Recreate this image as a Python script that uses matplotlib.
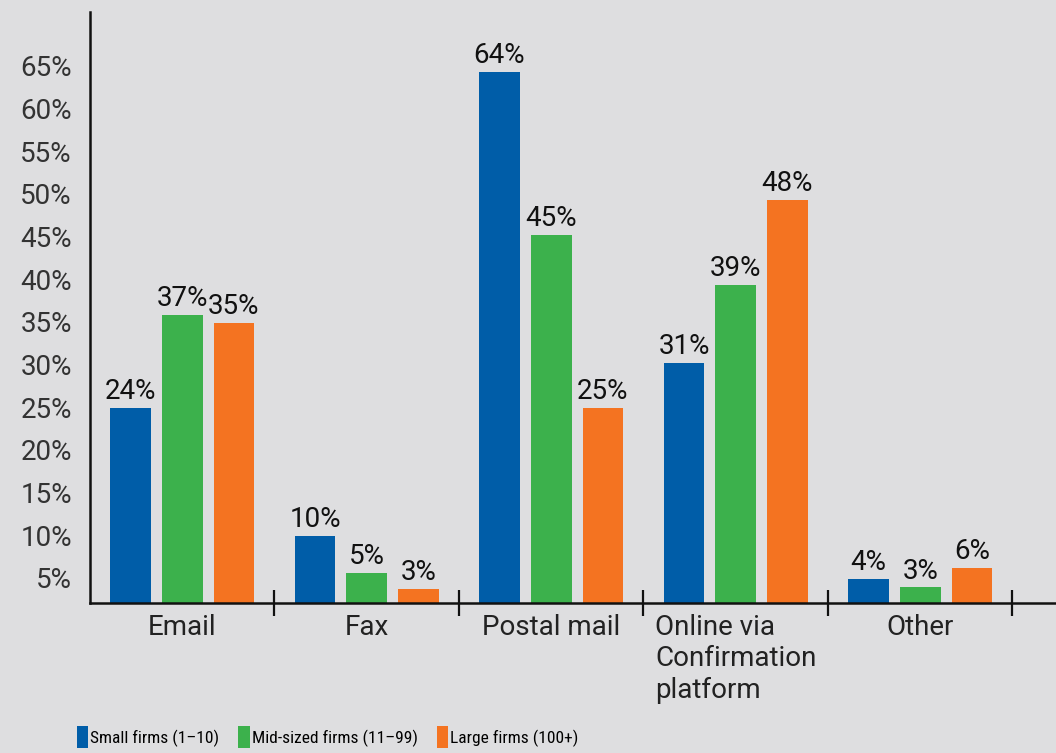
import numpy as np
import matplotlib
matplotlib.use('Agg')
import matplotlib.pyplot as plt
from matplotlib.patches import Patch

plt.rcParams['font.family'] = ['Roboto', 'DejaVu Sans']

categories = ['Email', 'Fax', 'Postal mail', 'Online via\nConfirmation\nplatform', 'Other']
series_names = ['Small firms (1\u201310)', 'Mid-sized firms (11\u201399)', 'Large firms (100+)']

# bar heights as drawn, and the printed labels
small = [24.9, 9.9, 64.3, 30.2, 4.9]
mid = [35.8, 5.6, 45.2, 39.3, 3.9]
large = [34.9, 3.7, 24.9, 49.3, 6.2]
small_labels = ['24%', '10%', '64%', '31%', '4%']
mid_labels = ['37%', '5%', '45%', '39%', '3%']
large_labels = ['35%', '3%', '25%', '48%', '6%']

yticks = [5, 10, 15, 20, 25, 30, 35, 40, 45, 50, 55, 60, 65]

colors = ['#005da8', '#3cb14c', '#f47321']
bg = '#dedee0'

fig = plt.figure(figsize=(10.56, 7.53), dpi=100, facecolor=bg)
ax = fig.add_axes([0.0852, 0.1992, 0.9148, 0.785])
ax.set_facecolor(bg)

x = np.arange(len(categories))
offset = 0.28
width = 0.22
for k, (vals, labs) in enumerate([(small, small_labels), (mid, mid_labels), (large, large_labels)]):
    pos = x + (k - 1) * offset
    ax.bar(pos, vals, width=width, color=colors[k], zorder=2)
    for px, v, t in zip(pos, vals, labs):
        ax.annotate(t, (px, v), xytext=(0, 2), textcoords='offset points',
                    ha='center', va='bottom', fontsize=20, color='#111111')

ax.set_xlim(-0.5, 4.736)
ax.set_ylim(2.07, 71.3)

ax.set_yticks(yticks)
ax.set_yticklabels([f'{v}%' for v in yticks])
ax.tick_params(axis='y', length=0, pad=13, labelsize=20, labelcolor='#333333')

ax.set_xticks(x)
ax.set_xticklabels(categories, multialignment='left')
ax.tick_params(axis='x', which='major', length=0, pad=8, labelsize=20, labelcolor='#222222')
ax.set_xticks(x + 0.5, minor=True)
ax.tick_params(axis='x', which='minor', direction='inout', length=19, width=1.6, color='#111111')

for s in ['top', 'right']:
    ax.spines[s].set_visible(False)
for s in ['left', 'bottom']:
    ax.spines[s].set_linewidth(1.8)
    ax.spines[s].set_color('#111111')

handles = [Patch(facecolor=c, edgecolor='none') for c in colors]
fig.legend(handles, series_names, loc='lower left', bbox_to_anchor=(0.058, -0.014),
           ncol=3, frameon=False, handlelength=0.65, handleheight=1.55,
           handletextpad=0.12, columnspacing=1.1,
           prop={'family': ['Roboto Condensed', 'Roboto'], 'size': 12.5})

fig.savefig('out.png', dpi=100, facecolor=bg)
